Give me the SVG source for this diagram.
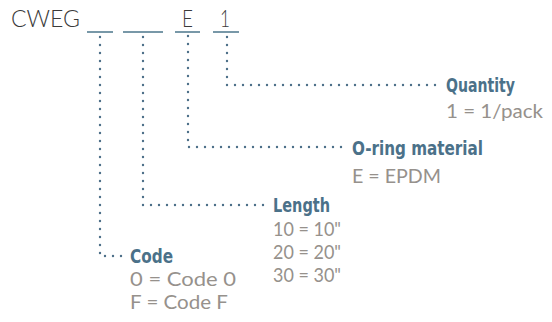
<svg xmlns="http://www.w3.org/2000/svg" width="552" height="322" viewBox="0 0 552 322">
<style>
.lt{font-family:Lato,"Open Sans","Liberation Sans",sans-serif;font-weight:400;fill:#96918c;font-size:18.5px}
.hd{font-family:"DejaVu Sans Condensed","DejaVu Sans",sans-serif;font-weight:bold;fill:#4b7189;font-size:19.5px}
.code{font-family:Lato,"Open Sans","Liberation Sans",sans-serif;font-weight:300;fill:#3a3a3a;font-size:23px}
.ul{stroke:#7898a8;stroke-width:2;fill:none}
.dot{stroke:#4d7089;stroke-width:2.4;stroke-linecap:round;stroke-dasharray:0 8;fill:none}
</style>
<rect width="552" height="322" fill="#ffffff"/>
<g id="partcode">
<text class="code" x="11" y="27" textLength="69" lengthAdjust="spacingAndGlyphs">CWEG</text>
<text class="code" x="182" y="27" textLength="11" lengthAdjust="spacingAndGlyphs">E</text>
<text class="code" x="220" y="27" textLength="10" lengthAdjust="spacingAndGlyphs">1</text>
<line class="ul" x1="87" y1="32" x2="113" y2="32"/>
<line class="ul" x1="123" y1="32" x2="163" y2="32"/>
<line class="ul" x1="175" y1="32" x2="200" y2="32"/>
<line class="ul" x1="213" y1="32" x2="239" y2="32"/>
</g>
<g id="connectors">
<path class="dot" d="M227 37 V85 H443"/>
<path class="dot" d="M188 36 V147 H348"/>
<path class="dot" d="M143 37 V205 H269"/>
<path class="dot" d="M100 37 V256 H127"/>
</g>
<g id="quantity">
<text class="hd" x="446" y="92" textLength="69" lengthAdjust="spacingAndGlyphs">Quantity</text>
<text class="lt" x="446" y="118" textLength="97" lengthAdjust="spacingAndGlyphs">1 = 1/pack</text>
</g>
<g id="oring">
<text class="hd" x="352" y="155" textLength="131" lengthAdjust="spacingAndGlyphs">O-ring material</text>
<text class="lt" x="352" y="183" textLength="89" lengthAdjust="spacingAndGlyphs">E = EPDM</text>
</g>
<g id="length">
<text class="hd" x="273" y="212" textLength="57" lengthAdjust="spacingAndGlyphs">Length</text>
<text class="lt" x="273" y="236" textLength="68" lengthAdjust="spacingAndGlyphs">10 = 10"</text>
<text class="lt" x="273" y="259" textLength="68" lengthAdjust="spacingAndGlyphs">20 = 20"</text>
<text class="lt" x="273" y="282" textLength="68" lengthAdjust="spacingAndGlyphs">30 = 30"</text>
</g>
<g id="code">
<text class="hd" x="130" y="263" textLength="43" lengthAdjust="spacingAndGlyphs">Code</text>
<text class="lt" x="130" y="286" textLength="106" lengthAdjust="spacingAndGlyphs">0 = Code 0</text>
<text class="lt" x="130" y="309" textLength="98" lengthAdjust="spacingAndGlyphs">F = Code F</text>
</g>
</svg>
